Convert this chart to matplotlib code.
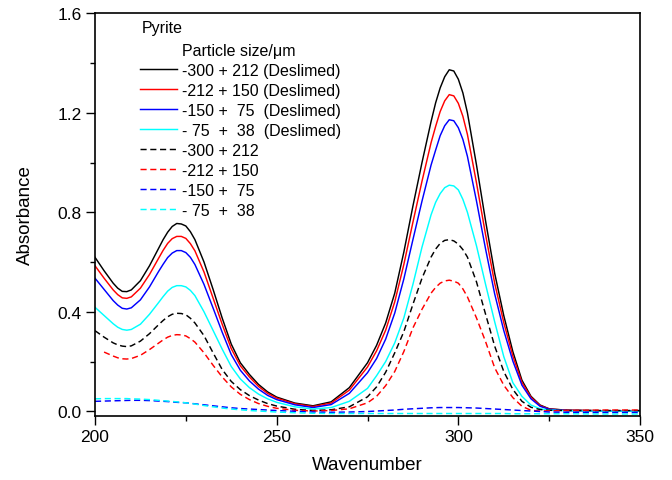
import numpy as np
import matplotlib
matplotlib.use("Agg")
import matplotlib.pyplot as plt
from matplotlib.lines import Line2D
from matplotlib.ticker import MultipleLocator, FormatStrFormatter

plt.rcParams['font.family'] = ['Liberation Sans', 'DejaVu Sans']

nan = np.nan
wavenumber = [200, 202.5, 205,
              206.25, 207.5, 208.75, 210,
              212.5, 215, 217.5,
              218.75, 220, 221.25, 222.5, 223.75, 225, 226.25, 227.5,
              230, 232.5, 235, 237.5, 240, 242.5, 245, 247.5, 250,
              255, 260, 265, 270, 275,
              277.5, 280, 282.5, 285, 287.5, 290, 292.5,
              293.75, 295, 296.25, 297.5, 298.75, 300, 301.25, 302.5,
              305, 307.5, 310, 312.5, 315, 317.5, 320, 322.5, 325,
              330, 340, 350]

des_300_212 = [0.619, 0.565, 0.515,
               0.495, 0.482, 0.481, 0.488,
               0.525, 0.585, 0.655,
               0.69, 0.72, 0.743, 0.755, 0.753, 0.745, 0.722, 0.69,
               0.60, 0.49, 0.375, 0.27, 0.195, 0.148, 0.108, 0.078, 0.057,
               0.033, 0.022, 0.038, 0.095, 0.195,
               0.265, 0.355, 0.475, 0.64, 0.825, 1.0, 1.165,
               1.24, 1.30, 1.345, 1.373, 1.368, 1.335, 1.28, 1.2,
               0.99, 0.765, 0.555, 0.385, 0.24, 0.125, 0.06, 0.025, 0.01,
               0.004, 0.002, 0.002]
des_212_150 = [0.585, 0.535, 0.488,
               0.469, 0.456, 0.454, 0.46,
               0.495, 0.55, 0.615,
               0.647, 0.675, 0.694, 0.703, 0.703, 0.695, 0.674, 0.645,
               0.56, 0.455, 0.35, 0.252, 0.183, 0.138, 0.1, 0.072, 0.053,
               0.03, 0.019, 0.033, 0.085, 0.178,
               0.243, 0.326, 0.44, 0.59, 0.76, 0.925, 1.08,
               1.145, 1.205, 1.248, 1.273, 1.268, 1.238, 1.186, 1.113,
               0.918, 0.71, 0.515, 0.357, 0.222, 0.116, 0.056, 0.023, 0.009,
               0.004, 0.002, 0.002]
des_150_75 = [0.535, 0.49, 0.445,
              0.427, 0.414, 0.411, 0.416,
              0.448, 0.5, 0.562,
              0.591, 0.618, 0.636, 0.646, 0.646, 0.638, 0.619, 0.59,
              0.51, 0.415, 0.318, 0.228, 0.165, 0.122, 0.089, 0.064, 0.047,
              0.026, 0.015, 0.027, 0.072, 0.155,
              0.212, 0.29, 0.395, 0.532, 0.69, 0.845, 0.99,
              1.05, 1.108, 1.148, 1.172, 1.168, 1.14, 1.093, 1.025,
              0.845, 0.652, 0.472, 0.325, 0.202, 0.105, 0.05, 0.02, 0.008,
              0.003, 0.002, 0.002]
des_75_38 = [0.418, 0.385, 0.352,
             0.338, 0.329, 0.326, 0.329,
             0.35, 0.39, 0.437,
             0.461, 0.483, 0.498, 0.505, 0.505, 0.5, 0.486, 0.465,
             0.4, 0.325, 0.25, 0.18, 0.13, 0.095, 0.069, 0.05, 0.036,
             0.018, 0.009, 0.015, 0.04, 0.092,
             0.143, 0.2, 0.275, 0.375, 0.51, 0.66, 0.79,
             0.84, 0.875, 0.899, 0.909, 0.906, 0.89, 0.852, 0.8,
             0.665, 0.51, 0.36, 0.22, 0.115, 0.06, 0.025, 0.01, 0.005,
             0.002, 0.001, 0.001]
raw_300_212 = [0.324, 0.298, 0.275,
               0.267, 0.262, 0.26, 0.263,
               0.282, 0.312, 0.348,
               0.365, 0.38, 0.39, 0.394, 0.393, 0.388, 0.374, 0.355,
               0.304, 0.235, 0.168, 0.12, 0.087, 0.063, 0.045, 0.031, 0.021,
               0.008, 0.003, 0.006, 0.018, 0.058,
               0.098, 0.157, 0.235, 0.32, 0.43, 0.535, 0.62,
               0.652, 0.675, 0.687, 0.69, 0.685, 0.672, 0.65, 0.62,
               0.52, 0.39, 0.262, 0.16, 0.088, 0.04, 0.016, 0.007, 0.004,
               0.003, 0.003, 0.003]
raw_212_150 = [nan, 0.238, 0.222,
               0.215, 0.211, 0.21, 0.212,
               0.225, 0.248, 0.274,
               0.287, 0.298, 0.305, 0.308, 0.307, 0.303, 0.292, 0.278,
               0.235, 0.185, 0.138, 0.098, 0.068, 0.047, 0.031, 0.02, 0.012,
               0.004, 0.001, 0.003, 0.01, 0.034,
               0.06, 0.103, 0.16, 0.24, 0.335, 0.41, 0.475,
               0.498, 0.515, 0.524, 0.527, 0.523, 0.515, 0.492, 0.46,
               0.375, 0.28, 0.175, 0.105, 0.055, 0.02, 0.004, 0.001, 0.002,
               0.003, 0.005, 0.005]
raw_150_75 = [0.040, 0.041, 0.042,
              0.0425, 0.043, 0.0435, 0.044,
              0.044, 0.043, 0.041,
              0.040, 0.039, 0.0375, 0.036, 0.035, 0.034, 0.032, 0.03,
              0.026, 0.022, 0.018, 0.014, 0.011, 0.009, 0.007, 0.005, 0.003,
              0.0, -0.003, -0.004, -0.003, -0.001,
              0.001, 0.003, 0.005, 0.008, 0.01, 0.012, 0.014,
              0.0145, 0.015, 0.015, 0.015, 0.015, 0.015, 0.0145, 0.014,
              0.013, 0.011, 0.009, 0.007, 0.005, 0.003, 0.001, -0.001, -0.003,
              -0.004, -0.005, -0.005]
raw_75_38 = [0.050, 0.051, 0.051,
             0.051, 0.051, 0.051, 0.05,
             0.049, 0.047, 0.044,
             0.0425, 0.041, 0.0395, 0.038, 0.036, 0.034, 0.0315, 0.029,
             0.023, 0.018, 0.013, 0.009, 0.006, 0.003, 0.001, -0.001, -0.003,
             -0.006, -0.008, -0.009, -0.009, -0.009,
             -0.009, -0.009, -0.009, -0.009, -0.009, -0.009, -0.009,
             -0.009, -0.009, -0.009, -0.009, -0.009, -0.009, -0.009, -0.009,
             -0.009, -0.009, -0.009, -0.009, -0.01, -0.01, -0.01, -0.01, -0.01,
             -0.01, -0.011, -0.011]

series = [
    ("-300 + 212 (Deslimed)", des_300_212, "black", "-"),
    ("-212 + 150 (Deslimed)", des_212_150, "#ff0000", "-"),
    ("-150 +  75  (Deslimed)", des_150_75, "#0000ff", "-"),
    ("- 75  +  38  (Deslimed)", des_75_38, "#00ffff", "-"),
    ("-300 + 212", raw_300_212, "black", "--"),
    ("-212 + 150", raw_212_150, "#ff0000", "--"),
    ("-150 +  75", raw_150_75, "#0000ff", "--"),
    ("- 75  +  38", raw_75_38, "#00ffff", "--"),
]

fig = plt.figure(figsize=(6.72, 4.81), dpi=100)
ax = fig.add_axes([95/672, 1-416.5/481, (640-95)/672, (416.5-14.3)/481])

handles = [Line2D([], [], color='none', label="Particle size/\u03bcm")]
for label, vals, col, ls in series:
    if ls == "-":
        ln, = ax.plot(wavenumber, vals, color=col, lw=1.05, label=label)
    else:
        ln, = ax.plot(wavenumber, vals, color=col, lw=1.05, linestyle=(0, (4.2, 2.5)), label=label)
    handles.append(ln)

ax.set_xlim(200, 350)
ax.set_ylim(-0.017, 1.6)
ax.xaxis.set_major_locator(MultipleLocator(50))
ax.xaxis.set_minor_locator(MultipleLocator(25))
ax.yaxis.set_major_locator(MultipleLocator(0.4))
ax.yaxis.set_minor_locator(MultipleLocator(0.2))
ax.yaxis.set_major_formatter(FormatStrFormatter('%.1f'))
ax.tick_params(which='major', direction='out', length=6.5, width=1.0, labelsize=12.5, pad=3,
               top=False, right=False)
ax.tick_params(which='minor', direction='out', length=3.6, width=1.0, top=False, right=False)
for sp in ax.spines.values():
    sp.set_linewidth(1.2)

ax.set_xlabel("Wavenumber", fontsize=13.5, labelpad=9)
ax.set_ylabel("Absorbance", fontsize=13.5, labelpad=17)

fig.text(141.5/672, 1-29/481, "Pyrite", fontsize=11.5, ha='left', va='center')
leg = ax.legend(handles=handles, loc='upper left',
                bbox_to_anchor=(140/672, 1-44/481), bbox_transform=fig.transFigure,
                frameon=False, fontsize=11.5, handlelength=2.3,
                handletextpad=0.3, labelspacing=0.31, borderpad=0, borderaxespad=0)

fig.savefig("out.png", dpi=100)
